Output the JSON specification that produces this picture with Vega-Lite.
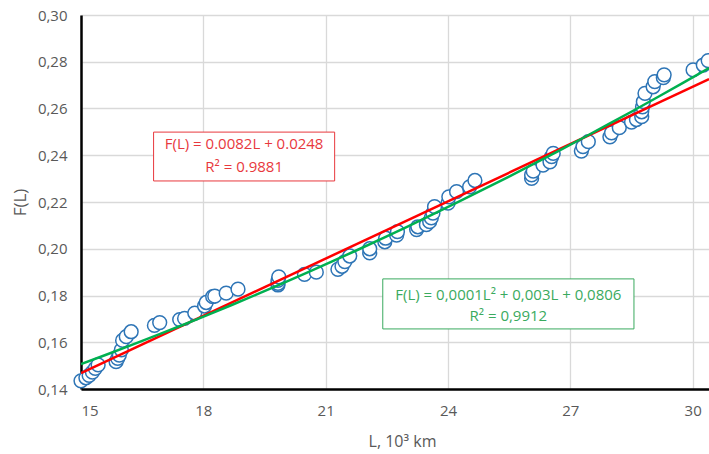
{
  "$schema": "https://vega.github.io/schema/vega-lite/v6.json",
  "width": 628,
  "height": 374,
  "autosize": {"type": "none"},
  "padding": {"left": 81, "top": 15, "right": 0, "bottom": 65},
  "background": "white",
  "config": {"view": {"stroke": null}, "font": "Open Sans"},
  "datasets": {
    "pts": [
      {"L": 15.0, "F": 0.1435}, {"L": 15.12, "F": 0.1448}, {"L": 15.2, "F": 0.1458}, {"L": 15.28, "F": 0.1472},
      {"L": 15.35, "F": 0.1488}, {"L": 15.42, "F": 0.1503}, {"L": 15.86, "F": 0.1517}, {"L": 15.9, "F": 0.1531},
      {"L": 15.94, "F": 0.1545}, {"L": 15.99, "F": 0.1567}, {"L": 16.02, "F": 0.1608}, {"L": 16.11, "F": 0.1624},
      {"L": 16.23, "F": 0.1645}, {"L": 16.8, "F": 0.1672}, {"L": 16.93, "F": 0.1684}, {"L": 17.42, "F": 0.1697},
      {"L": 17.54, "F": 0.1702}, {"L": 17.79, "F": 0.1725}, {"L": 18.03, "F": 0.1755}, {"L": 18.07, "F": 0.177},
      {"L": 18.23, "F": 0.1795}, {"L": 18.28, "F": 0.1797}, {"L": 18.56, "F": 0.181}, {"L": 18.85, "F": 0.1827},
      {"L": 19.83, "F": 0.1845}, {"L": 19.83, "F": 0.1852}, {"L": 19.83, "F": 0.1865}, {"L": 19.85, "F": 0.188},
      {"L": 20.48, "F": 0.189}, {"L": 20.77, "F": 0.19}, {"L": 21.3, "F": 0.1912}, {"L": 21.4, "F": 0.1925},
      {"L": 21.47, "F": 0.1945}, {"L": 21.59, "F": 0.1969}, {"L": 22.08, "F": 0.1982}, {"L": 22.08, "F": 0.2},
      {"L": 22.45, "F": 0.203}, {"L": 22.47, "F": 0.2045}, {"L": 22.74, "F": 0.2058}, {"L": 22.76, "F": 0.2073},
      {"L": 23.23, "F": 0.2082}, {"L": 23.26, "F": 0.2094}, {"L": 23.47, "F": 0.2103}, {"L": 23.55, "F": 0.2116},
      {"L": 23.59, "F": 0.2132}, {"L": 23.63, "F": 0.2152}, {"L": 23.67, "F": 0.218}, {"L": 24.0, "F": 0.2195},
      {"L": 24.02, "F": 0.2222}, {"L": 24.21, "F": 0.2244}, {"L": 24.53, "F": 0.2265}, {"L": 24.66, "F": 0.2292},
      {"L": 26.05, "F": 0.2301}, {"L": 26.05, "F": 0.2316}, {"L": 26.09, "F": 0.2332}, {"L": 26.33, "F": 0.2358},
      {"L": 26.5, "F": 0.2372}, {"L": 26.54, "F": 0.2394}, {"L": 26.58, "F": 0.2408}, {"L": 27.27, "F": 0.2418},
      {"L": 27.31, "F": 0.2437}, {"L": 27.44, "F": 0.2458}, {"L": 27.97, "F": 0.2479}, {"L": 28.01, "F": 0.2496},
      {"L": 28.2, "F": 0.2518}, {"L": 28.5, "F": 0.2542}, {"L": 28.62, "F": 0.2553}, {"L": 28.75, "F": 0.2565},
      {"L": 28.75, "F": 0.2586}, {"L": 28.77, "F": 0.2607}, {"L": 28.79, "F": 0.2629}, {"L": 28.83, "F": 0.2665},
      {"L": 29.03, "F": 0.2693}, {"L": 29.07, "F": 0.2715}, {"L": 29.28, "F": 0.2732}, {"L": 29.3, "F": 0.2744},
      {"L": 30.01, "F": 0.2765}, {"L": 30.26, "F": 0.2786}, {"L": 30.38, "F": 0.2805}
    ]
  },
  "layer": [
    {
      "data": {"name": "pts"},
      "mark": {"type": "point", "shape": "circle", "filled": false, "fill": "white", "fillOpacity": 1, "opacity": 1, "stroke": "#2E75B6", "strokeWidth": 1.5, "size": 190, "clip": false},
      "encoding": {
        "x": {
          "field": "L", "type": "quantitative",
          "scale": {"domain": [15, 30.4], "nice": false, "zero": false},
          "axis": {
            "values": [15, 18, 21, 24, 27, 30], "ticks": false, "labelPadding": 14,
            "labelFontSize": 15, "labelColor": "#595959", "labelFont": "Open Sans",
            "domainColor": "black", "domainWidth": 2.5,
            "gridColor": "#D9D9D9", "gridWidth": 1.3,
            "title": "L, 10³ km", "titleFontSize": 16, "titleFontWeight": "normal", "titleColor": "#595959",
            "titlePadding": 15, "titleX": 321
          }
        },
        "y": {
          "field": "F", "type": "quantitative",
          "scale": {"domain": [0.14, 0.3], "nice": false, "zero": false},
          "axis": {
            "values": [0.14, 0.16, 0.18, 0.2, 0.22, 0.24, 0.26, 0.28, 0.3], "ticks": false, "labelPadding": 14,
            "labelExpr": "replace(format(datum.value, '.2f'), '.', ',')",
            "labelFontSize": 15, "labelColor": "#595959",
            "domainColor": "black", "domainWidth": 2.5,
            "gridColor": "#D9D9D9", "gridWidth": 1.3,
            "title": "F(L)", "titleFontSize": 17, "titleFontWeight": "normal", "titleColor": "#595959",
            "titlePadding": 8
          }
        }
      }
    },
    {
      "data": {"name": "pts"},
      "transform": [{"regression": "F", "on": "L", "method": "linear", "extent": [15, 30.4]}],
      "mark": {"type": "line", "color": "#FF0000", "strokeWidth": 2.5, "clip": true},
      "encoding": {"x": {"field": "L", "type": "quantitative"}, "y": {"field": "F", "type": "quantitative"}}
    },
    {
      "data": {"name": "pts"},
      "transform": [{"regression": "F", "on": "L", "method": "poly", "order": 2, "extent": [15, 30.4]}],
      "mark": {"type": "line", "color": "#00B050", "strokeWidth": 2.5, "clip": true},
      "encoding": {"x": {"field": "L", "type": "quantitative"}, "y": {"field": "F", "type": "quantitative"}}
    },
    {
      "data": {"values": [{"a": 16.78, "b": 21.22, "c": 0.2499, "d": 0.229}]},
      "mark": {"type": "rect", "fill": "white", "stroke": "#E8383D", "strokeWidth": 1},
      "encoding": {"x": {"field": "a", "type": "quantitative"}, "x2": {"field": "b"}, "y": {"field": "c", "type": "quantitative"}, "y2": {"field": "d"}}
    },
    {
      "data": {"values": [{"a": 22.4, "b": 28.56, "c": 0.1871, "d": 0.1657}]},
      "mark": {"type": "rect", "fill": "white", "stroke": "#3AAA5E", "strokeWidth": 1},
      "encoding": {"x": {"field": "a", "type": "quantitative"}, "x2": {"field": "b"}, "y": {"field": "c", "type": "quantitative"}, "y2": {"field": "d"}}
    },
    {
      "data": {"values": [
        {"L": 19.0, "F": 0.2448, "t": "F(L) = 0.0082L + 0.0248"},
        {"L": 19.0, "F": 0.235, "t": "R² = 0.9881"}
      ]},
      "mark": {"type": "text", "color": "#E8383D", "fontSize": 15, "align": "center", "baseline": "middle"},
      "encoding": {"x": {"field": "L", "type": "quantitative"}, "y": {"field": "F", "type": "quantitative"}, "text": {"field": "t"}}
    },
    {
      "data": {"values": [
        {"L": 25.48, "F": 0.1802, "t": "F(L) = 0,0001L² + 0,003L + 0,0806"},
        {"L": 25.48, "F": 0.1712, "t": "R² = 0,9912"}
      ]},
      "mark": {"type": "text", "color": "#3AAA5E", "fontSize": 15, "align": "center", "baseline": "middle"},
      "encoding": {"x": {"field": "L", "type": "quantitative"}, "y": {"field": "F", "type": "quantitative"}, "text": {"field": "t"}}
    }
  ]
}
